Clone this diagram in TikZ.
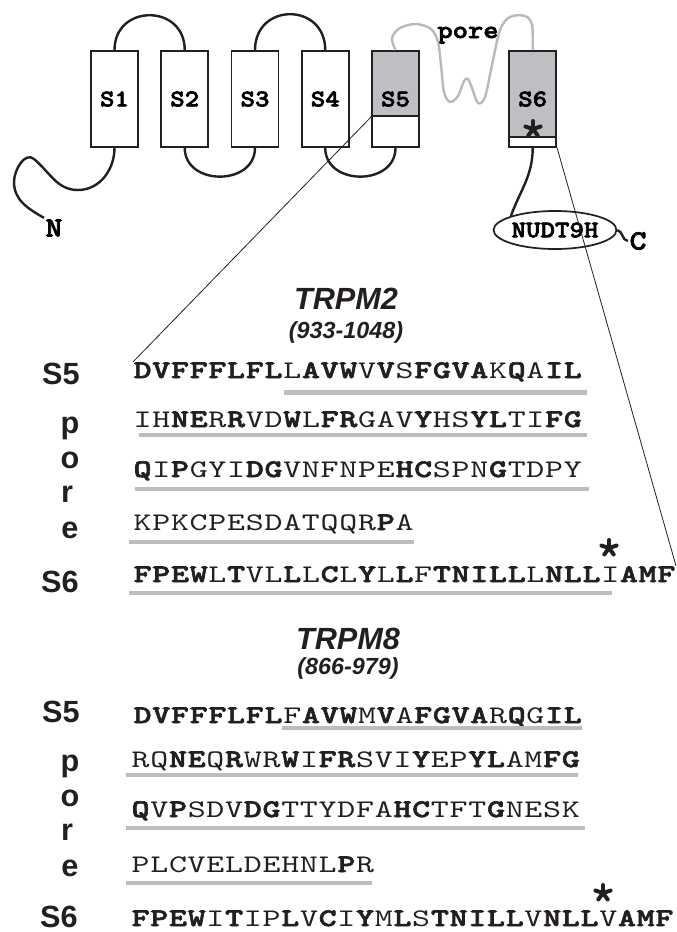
\documentclass[tikz,border=0pt]{standalone}
\usepackage{fontspec}
\usetikzlibrary{shapes.geometric}

\newfontfamily\arialfont{Liberation Sans}
\newfontfamily\seqfont{lmmono10}[Extension=.otf, UprightFont=*-regular,
  BoldFont=lmmonolt10-bold, BoldFeatures={FakeBold=2.5}, FakeStretch=1.15]
\newfontfamily\widefont{lmmono10}[Extension=.otf, UprightFont=*-regular,
  BoldFont=lmmonolt10-bold, BoldFeatures={FakeBold=2.5}, FakeStretch=1.35]

\definecolor{tmgray}{RGB}{190,191,194}
\definecolor{poregray}{RGB}{184,185,188}
\definecolor{ulgray}{RGB}{188,189,192}
\definecolor{inkblack}{RGB}{35,31,32}

% one residue per fixed-width cell, "!" switches bold on/off
\newlength\seqpitch \setlength\seqpitch{14.03pt}
\newif\ifseqbold
\newcommand\seqchar[1]{\makebox[\seqpitch]{\ifseqbold\bfseries\fi#1}}
\def\seqscan#1{\ifx#1\relax\else\ifx#1!\ifseqbold\seqboldfalse\else\seqboldtrue\fi\else\seqchar{#1}\fi\expandafter\seqscan\fi}
\newcommand\seqrow[1]{\seqboldfalse\seqscan#1\relax}

\tikzset{
  pics/aster/.style={code={
    \foreach \a in {90,162,234,306,18}
      \draw[inkblack, line width=3pt, line cap=round] (0,0) -- (\a:8);}}
}

\begin{document}
\begin{tikzpicture}[x=0.75pt, y=0.75pt,
  tmseg/.style={draw=inkblack, line width=1.3pt, minimum width=35.25pt,
    minimum height=72pt, inner sep=0pt, font=\seqfont\bfseries\fontsize{18}{18}\selectfont},
  tmloop/.style={inkblack, line width=1.8pt},
  poreline/.style={poregray, line width=1.8pt},
  zoomline/.style={inkblack, line width=0.6pt},
  termlab/.style={inner sep=1pt, font=\seqfont\bfseries\fontsize{21}{21}\selectfont},
  nudt/.style={ellipse, draw=inkblack, line width=1.3pt, minimum width=84pt,
    minimum height=28.5pt, inner sep=0pt, font=\seqfont\bfseries\fontsize{18}{18}\selectfont},
  seqtxt/.style={anchor=base west, inner sep=0pt, text=inkblack,
    font=\widefont\fontsize{19}{19}\selectfont},
  ulbar/.style={ulgray, line width=3.6pt},
  sidelab/.style={anchor=base, inner sep=0pt, text=inkblack,
    font=\arialfont\bfseries\fontsize{23}{23}\selectfont},
  titlelab/.style={inner sep=0pt, text=inkblack,
    font=\arialfont\bfseries\itshape\fontsize{23}{23}\selectfont},
  rangelab/.style={inner sep=0pt, text=inkblack,
    font=\arialfont\bfseries\itshape\fontsize{17.5}{18}\selectfont}]
\useasboundingbox (0,0) rectangle (677,-932);

% channel topology
\fill[tmgray] (372,-51) rectangle (418.7,-116);
\fill[tmgray] (509.3,-51) rectangle (556,-137);
\node[tmseg] (s1) at (114.5,-99) {S1};
\node[tmseg] (s2) at (184.75,-99) {S2};
\node[tmseg] (s3) at (255,-99) {S3};
\node[tmseg] (s4) at (325.25,-99) {S4};
\node[tmseg] (s5) at (395.5,-99) {S5};
\node[tmseg] (s6) at (532.7,-99) {S6};
\draw[inkblack, line width=1.3pt] (372,-116) -- (418.7,-116);
\draw[inkblack, line width=1.3pt] (509.3,-137) -- (556,-137);
\pic at (533,-129) {aster};
\coordinate (cutL) at (372,-116);

\draw[tmloop] (s1.north) to[out=90,in=90,looseness=1.7] (s2.north);
\draw[tmloop] (s3.north) to[out=90,in=90,looseness=1.75] (s4.north);
\draw[tmloop] (s2.south) to[out=-90,in=-90,looseness=1.4] (s3.south);
\draw[tmloop] (s4.south) to[out=-90,in=-90,looseness=1.4] (s5.south);

\node[termlab] (nterm) at (54,-228) {N};
\draw[tmloop] (s1.south) to[out=-90,in=0] (78,-190) to[out=180,in=-40] (34,-159)
  to[out=140,in=90] (14,-182) to[out=-90,in=150] (nterm.north west);

\node[termlab, font=\seqfont\bfseries\fontsize{19}{19}\selectfont, anchor=base] (porelab) at (468,-38) {pore};
\draw[poreline] plot[smooth, tension=0.55] coordinates {(s5.north) (392,-38)
  (400,-28) (416,-24) (431,-29) (438,-42) (441,-65) (444,-92) (450,-102)
  (458,-96) (464,-81) (468,-79) (472,-88) (478,-103) (485,-97) (492,-65)
  (500,-30) (510,-17) (525,-16) (532,-25) (s6.north)};

\node[nudt] (nudt) at (555,-230) {NUDT9H};
\node[termlab] (cterm) at (638,-241) {C};
\draw[tmloop] (s6.south) to[out=-90,in=70] (nudt.north west);
\draw[tmloop] (nudt.east) to[out=-15,in=175] (cterm.west);

% TRPM2
\node[titlelab] (t2) at (346,-298.5) {TRPM2};
\node[rangelab] (t2r) at (346,-332) {(933-1048)};
\node[sidelab] (l2s5) at (61,-384) {S5};
\node[sidelab] (l2p) at (70,-433) {p};
\node[sidelab] (l2o) at (70,-468) {o};
\node[sidelab] (l2r) at (67,-502) {r};
\node[sidelab] (l2e) at (70,-538) {e};
\node[sidelab] (l2s6) at (60,-592) {S6};

\node[seqtxt] (m2s5) at (133,-378) {\seqrow{!DVFFFLFL!L!AVW!V!V!S!FGVA!K!Q!A!IL!}};
\node[seqtxt] (m2p1) at (133,-427) {\seqrow{IH!NE!R!R!VD!W!L!FR!GAV!Y!HS!YL!TI!FG!}};
\node[seqtxt] (m2p2) at (133,-477) {\seqrow{!Q!I!P!GYI!DG!VNFNPE!HC!SPN!G!TDPY}};
\node[seqtxt] (m2p3) at (133,-530) {\seqrow{KPKCPESDATQQR!P!A}};
\node[seqtxt] (m2s6) at (133,-582) {\seqrow{!FPEW!L!T!VL!L!L!C!L!Y!L!L!F!TNILL!L!NLL!I!AMF!}};
\pic at (609,-548) {aster};

\draw[ulbar] (284,-392.5) -- (587,-392.5);
\draw[ulbar] (139,-435) -- (587,-435);
\draw[ulbar] (135,-489) -- (589,-489);
\draw[ulbar] (129,-542) -- (414,-542);
\draw[ulbar] (129,-593) -- (612,-593);

\draw[zoomline] (cutL) -- (m2s5.north west);
\draw[zoomline] (s6.south east) -- (m2s6.north east);

% TRPM8
\node[titlelab] (t8) at (348,-638.5) {TRPM8};
\node[rangelab] (t8r) at (348,-668.5) {(866-979)};
\node[sidelab] (l8s5) at (61,-722) {S5};
\node[sidelab] (l8p) at (70,-771) {p};
\node[sidelab] (l8o) at (70,-806) {o};
\node[sidelab] (l8r) at (67,-840) {r};
\node[sidelab] (l8e) at (70,-876) {e};
\node[sidelab] (l8s6) at (59,-927) {S6};

\node[seqtxt] (m8s5) at (133,-723) {\seqrow{!DVFFFLFL!F!AVW!M!V!A!FGVA!R!Q!G!IL!}};
\node[seqtxt] (m8p1) at (131,-767) {\seqrow{RQ!NE!Q!R!WR!W!I!FR!SVI!Y!EP!YL!AM!FG!}};
\node[seqtxt] (m8p2) at (131,-817) {\seqrow{!Q!V!P!SDV!DG!TTYDFA!HC!TFT!G!NESK}};
\node[seqtxt] (m8p3) at (131,-872) {\seqrow{PLCVELDEHNL!P!R}};
\node[seqtxt] (m8s6) at (131,-926) {\seqrow{!FPEW!I!T!IP!L!V!C!I!Y!M!L!S!TNILL!V!NLL!V!AMF!}};
\pic at (603,-893) {aster};

\draw[ulbar] (282,-728) -- (582,-728);
\draw[ulbar] (126,-775) -- (578,-775);
\draw[ulbar] (126,-828) -- (585,-828);
\draw[ulbar] (126,-883) -- (372,-883);
\end{tikzpicture}
\end{document}
